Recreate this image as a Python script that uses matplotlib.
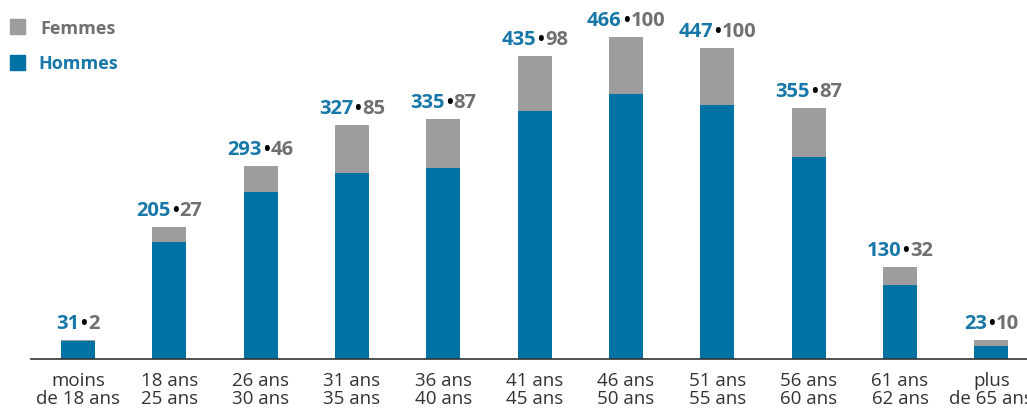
import matplotlib
matplotlib.use("Agg")
import matplotlib.pyplot as plt
from matplotlib.offsetbox import TextArea, HPacker, AnnotationBbox

categories = ["moins\nde 18 ans", "18 ans\n25 ans", "26 ans\n30 ans", "31 ans\n35 ans",
              "36 ans\n40 ans", "41 ans\n45 ans", "46 ans\n50 ans", "51 ans\n55 ans",
              "56 ans\n60 ans", "61 ans\n62 ans", "plus\nde 65 ans"]
hommes = [31, 205, 293, 327, 335, 435, 466, 447, 355, 130, 23]
femmes = [2, 27, 46, 85, 87, 98, 100, 100, 87, 32, 10]

BLUE = "#0072a3"
GRAY = "#9d9d9d"
BLUE_TXT = "#1677a8"
GRAY_TXT = "#707070"

plt.rcParams['font.family'] = ['Open Sans', 'DejaVu Sans']

fig = plt.figure(figsize=(10.27, 4.10), dpi=100)
ax = fig.add_axes([31/1027, 50/410, 1 - 31/1027, 360/410])

x = list(range(len(categories)))
w = 0.372
ax.bar(x, hommes, width=w, color=BLUE, zorder=2)
ax.bar(x, femmes, width=w, bottom=hommes, color=GRAY, zorder=2)

ax.set_xlim(-0.515, 10.39)
ax.set_ylim(0, 632.7)

for s in ["top", "right", "left"]:
    ax.spines[s].set_visible(False)
ax.spines["bottom"].set_color("#333333")
ax.spines["bottom"].set_linewidth(1.2)
ax.set_yticks([])
ax.set_xticks(x)
ax.set_xticklabels(categories, fontsize=13.5, color="#333333", linespacing=1.0)
ax.tick_params(axis="x", length=0, pad=9)

for xi, h, f in zip(x, hommes, femmes):
    parts = [
        TextArea(str(h), textprops=dict(color=BLUE_TXT, fontsize=14.5, fontweight="bold")),
        TextArea("•", textprops=dict(color="black", fontsize=13, fontweight="bold")),
        TextArea(str(f), textprops=dict(color=GRAY_TXT, fontsize=14.5, fontweight="bold")),
    ]
    box = HPacker(children=parts, pad=0, sep=0.8, align="baseline")
    ab = AnnotationBbox(box, (xi, h + f), xybox=(0, 5), xycoords="data",
                        boxcoords="offset points", box_alignment=(0.5, 0),
                        frameon=False, pad=0)
    ax.add_artist(ab)

# legend
fig.patches.append(plt.Rectangle((10/1027, 1 - 35/410), 15/1027, 15/410,
                                 transform=fig.transFigure, color=GRAY, figure=fig))
fig.patches.append(plt.Rectangle((10/1027, 1 - 71/410), 15/1027, 15/410,
                                 transform=fig.transFigure, color=BLUE, figure=fig))
fig.text(40/1027, 1 - 29/410, "Femmes", fontsize=13, fontweight="bold",
         color=GRAY_TXT, va="center", ha="left")
fig.text(38/1027, 1 - 64/410, "Hommes", fontsize=13, fontweight="bold",
         color=BLUE_TXT, va="center", ha="left")

fig.savefig("out.png", dpi=100)
